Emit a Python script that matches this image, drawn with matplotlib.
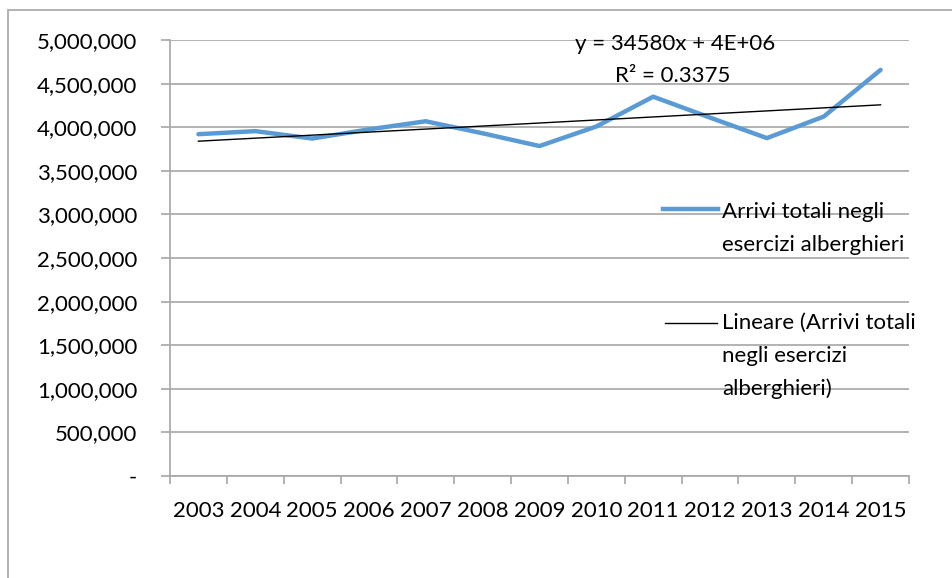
import numpy as np
import matplotlib
matplotlib.use("Agg")
import matplotlib.pyplot as plt
from matplotlib.lines import Line2D
from matplotlib.patches import Rectangle
from matplotlib.ticker import FuncFormatter

plt.rcParams['font.family'] = ['Lato', 'DejaVu Sans']

years = ['2003', '2004', '2005', '2006', '2007', '2008', '2009',
         '2010', '2011', '2012', '2013', '2014', '2015']
arrivi = [3920000, 3955000, 3870000, 3975000, 4068000, 3930000, 3784000,
          4008000, 4350000, 4110000, 3875000, 4122000, 4657000]
y_ticks = [0, 500000, 1000000, 1500000, 2000000, 2500000, 3000000,
           3500000, 4000000, 4500000, 5000000]
label_serie = 'Arrivi totali negli\nesercizi alberghieri'
label_trend = 'Lineare (Arrivi totali\nnegli esercizi\nalberghieri)'
eq_text = 'y = 34580x + 4E+06'
r2_text = 'R² = 0.3375'

FS = 16
GRID = '#a6a6a6'
BLUE = '#5b9bd5'

x = np.arange(1, len(years) + 1)
coef = np.polyfit(x, arrivi, 1)
trend = np.polyval(coef, x)

W, H = 952, 578
fig = plt.figure(figsize=(W / 100, H / 100), dpi=100)
ax = fig.add_axes([170 / W, 1 - 476 / H, (909 - 170) / W, (476 - 40) / H])


def fy(py):
    # pixel row (from top) -> figure fraction
    return 1 - py / H


# chart area border
fig.patches.append(Rectangle((8 / W, -0.1), 1.1, fy(10) + 0.1,
                             transform=fig.transFigure, fill=False,
                             edgecolor=GRID, linewidth=1.2))

ax.plot(x, arrivi, color=BLUE, linewidth=3.2, solid_capstyle='round',
        solid_joinstyle='round', zorder=3)
ax.plot(x, trend, color='black', linewidth=1.0, zorder=4)

ax.set_xlim(0.5, len(years) + 0.5)
ax.set_ylim(0, 5000000)
ax.set_yticks(y_ticks)
ax.yaxis.set_major_formatter(FuncFormatter(
    lambda v, p: '-' if v == 0 else f'{int(v):,}'))
ax.set_xticks(x)
ax.set_xticklabels(years)
ax.set_xticks(np.arange(0.5, len(years) + 1), minor=True)

ax.grid(axis='y', color=GRID, linewidth=1.2, zorder=0)
for s in ['top', 'right']:
    ax.spines[s].set_visible(False)
for s in ['left', 'bottom']:
    ax.spines[s].set_color(GRID)
    ax.spines[s].set_linewidth(1.2)
ax.tick_params(axis='y', length=6.5, width=1.2, color=GRID,
               labelsize=FS, pad=17)
ax.tick_params(axis='x', which='major', length=0, labelsize=FS, pad=18)
ax.tick_params(axis='x', which='minor', length=6, width=1.2, color=GRID)

# trendline equation
fig.text(675 / W, fy(50), eq_text, ha='center', va='baseline', fontsize=FS)
fig.text(673 / W, fy(82), r2_text, ha='center', va='baseline', fontsize=FS)

# legend drawn by hand on the right side
fig.add_artist(Line2D([663 / W, 718 / W], [fy(209)] * 2, color=BLUE,
                      linewidth=3.2, transform=fig.transFigure))
fig.add_artist(Line2D([665 / W, 717 / W], [fy(323)] * 2, color='black',
                      linewidth=1.0, transform=fig.transFigure))
for label, base in [(label_serie, 218), (label_trend, 329)]:
    for i, line in enumerate(label.split('\n')):
        fig.text(722 / W, fy(base + i * 33), line, ha='left',
                 va='baseline', fontsize=FS)

fig.savefig('out.png', dpi=100)
